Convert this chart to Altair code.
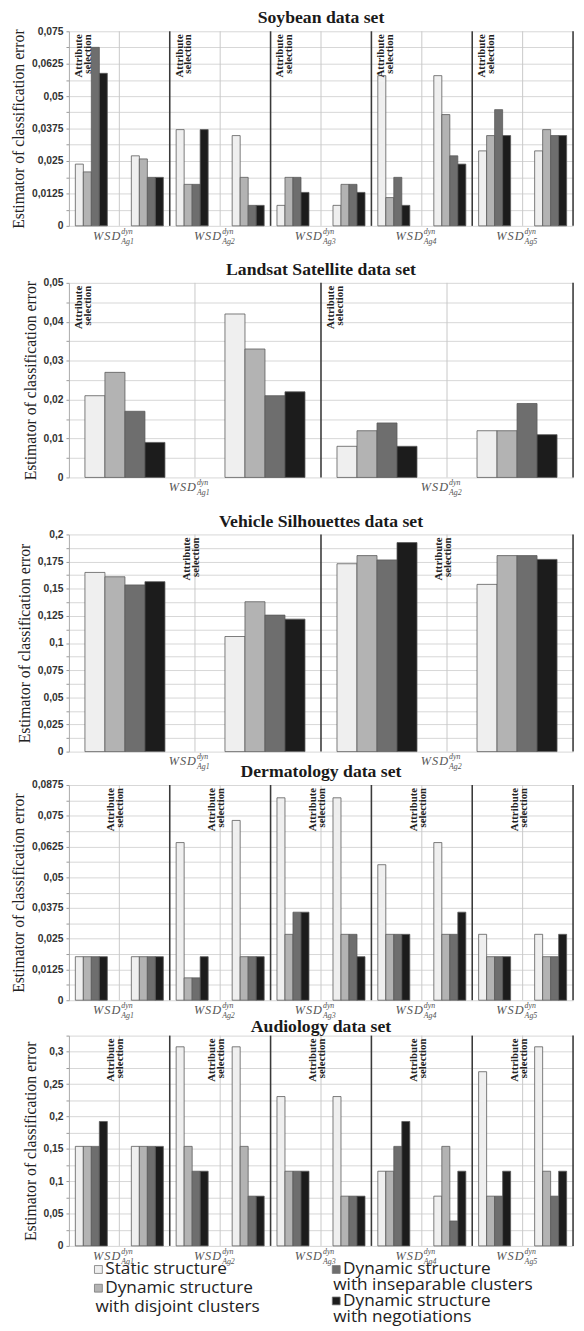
import altair as alt
import pandas as pd

SERIES = ["Static structure",
          "Dynamic structure with disjoint clusters",
          "Dynamic structure with inseparable clusters",
          "Dynamic structure with negotiations"]
COLORS = ["#efefef", "#b3b3b3", "#6e6e6e", "#1c1c1c"]

AG5 = ["Ag1", "Ag2", "Ag3", "Ag4", "Ag5"]
AG2 = ["Ag1", "Ag2"]

# values per agent group: [static, disjoint, inseparable, negotiations]
# left half (with "Attribute selection" label) and right half of each group
soy_left = [[0.0238, 0.0208, 0.0688, 0.0588],
            [0.0371, 0.0160, 0.0160, 0.0371],
            [0.0079, 0.0187, 0.0187, 0.0129],
            [0.0579, 0.0109, 0.0187, 0.0079],
            [0.0289, 0.0348, 0.0448, 0.0348]]
soy_right = [[0.0270, 0.0258, 0.0187, 0.0187],
             [0.0348, 0.0187, 0.0079, 0.0079],
             [0.0079, 0.0160, 0.0160, 0.0129],
             [0.0579, 0.0429, 0.0270, 0.0238],
             [0.0289, 0.0371, 0.0348, 0.0348]]

land_left = [[0.021, 0.027, 0.017, 0.009],
             [0.008, 0.012, 0.014, 0.008]]
land_right = [[0.042, 0.033, 0.021, 0.022],
              [0.012, 0.012, 0.019, 0.011]]

veh_left = [[0.165, 0.161, 0.1535, 0.1565],
            [0.173, 0.1805, 0.1765, 0.1925]]
veh_right = [[0.106, 0.138, 0.1257, 0.122],
             [0.154, 0.1805, 0.1805, 0.177]]

derm_left = [[0.0177, 0.0177, 0.0177, 0.0177],
             [0.0641, 0.0091, 0.0091, 0.0177],
             [0.0823, 0.0268, 0.0358, 0.0358],
             [0.0551, 0.0268, 0.0268, 0.0268],
             [0.0268, 0.0177, 0.0177, 0.0177]]
derm_right = [[0.0177, 0.0177, 0.0177, 0.0177],
              [0.0731, 0.0177, 0.0177, 0.0177],
              [0.0823, 0.0268, 0.0268, 0.0177],
              [0.0641, 0.0268, 0.0268, 0.0358],
              [0.0268, 0.0177, 0.0177, 0.0268]]

aud_left = [[0.1538, 0.1538, 0.1538, 0.1923],
            [0.3077, 0.1538, 0.1154, 0.1154],
            [0.2308, 0.1154, 0.1154, 0.1154],
            [0.1154, 0.1154, 0.1538, 0.1923],
            [0.2692, 0.0769, 0.0769, 0.1154]]
aud_right = [[0.1538, 0.1538, 0.1538, 0.1538],
             [0.3077, 0.1538, 0.0769, 0.0769],
             [0.2308, 0.0769, 0.0769, 0.0769],
             [0.0769, 0.1538, 0.0385, 0.1154],
             [0.3077, 0.1154, 0.0769, 0.1154]]

# legend lines (two columns, wrapped labels)
leg_col = [0, 0, 0, 1, 1, 1, 1]
leg_line = [0, 1.19, 2.38, 0, 1, 2, 3]
leg_text = ["Static structure", "Dynamic structure", "with disjoint clusters",
            "Dynamic structure", "with inseparable clusters", "Dynamic structure", "with negotiations"]
leg_series = [SERIES[0], SERIES[1], None, SERIES[2], None, SERIES[3], None]

SLOTS = ["L0", "L1", "L2", "L3", "g0", "g1", "g2", "R0", "R1", "R2", "R3"]
W = 513
SERIF = "Liberation Serif"
color_enc = alt.Color("series:N", scale=alt.Scale(domain=SERIES, range=COLORS), legend=None)


def legend_layer(height):
    ldf = pd.DataFrame({"col": leg_col, "line": leg_line, "text": leg_text, "series": leg_series})
    ldf["first"] = ldf["series"].notna()
    lx = alt.X("col:Q", scale=alt.Scale(domain=[0, 1], range=[27, 269]), axis=None)
    ly = alt.Y("line:Q", scale=alt.Scale(domain=[0, 3], range=[height + 24, height + 72]), axis=None)
    sym = alt.Chart(ldf[ldf["first"]]).mark_square(size=64, stroke="#777", strokeWidth=0.8, opacity=1,
                                                   xOffset=3).encode(x=lx, y=ly, color=color_enc)
    t1 = alt.Chart(ldf[ldf["first"]]).mark_text(align="left", baseline="middle", font="Open Sans",
                                                fontSize=17.5, color="#222", dx=10).encode(x=lx, y=ly, text="text:N")
    t2 = alt.Chart(ldf[~ldf["first"]]).mark_text(align="left", baseline="middle", font="Open Sans",
                                                 fontSize=17.5, color="#222", dx=0).encode(x=lx, y=ly, text="text:N")
    return alt.layer(sym, t1, t2)


def panel(title, agents, left_vals, right_vals, ymax, step, height, label_at_start,
          title_offset=-1, with_legend=False):
    rows = []
    for a, lv, rv in zip(agents, left_vals, right_vals):
        for i in range(4):
            rows.append({"agent": a, "slot": f"L{i}", "series": SERIES[i], "value": lv[i]})
            rows.append({"agent": a, "slot": f"R{i}", "series": SERIES[i], "value": rv[i]})
    df = pd.DataFrame(rows)
    xscale = alt.Scale(domain=agents, paddingInner=0, paddingOuter=0)
    half = step / 2
    grid_vals = [round(k * half, 6) for k in range(int(round(ymax / half)) + 1)]
    label_expr = (f"abs(datum.value/{step} - round(datum.value/{step})) < 0.001 ? "
                  f"replace(format(datum.value, '.6~g'), '.', ',') : ''")
    yenc = alt.Y("value:Q",
                 scale=alt.Scale(domain=[0, ymax], nice=False, zero=True),
                 axis=alt.Axis(values=grid_vals, labelExpr=label_expr,
                               title="Estimator of classification error",
                               titleFont=SERIF, titleFontSize=16, titleFontWeight="normal",
                               titleColor="#222", titlePadding=5,
                               labelFont="Liberation Sans", labelFontWeight="bold",
                               labelFontSize=10.5, labelColor="#333", labelPadding=3,
                               tickSize=3, tickColor="#999", domainColor="#aaa",
                               gridColor="#d6d6d6"))
    bars = alt.Chart(df).mark_bar(stroke="#5a5a5a", strokeWidth=0.8).encode(
        x=alt.X("agent:N", scale=xscale, axis=None),
        xOffset=alt.XOffset("slot:N", scale=alt.Scale(domain=SLOTS, paddingInner=0, paddingOuter=0.8)),
        y=yenc,
        color=color_enc,
    )
    adf = pd.DataFrame({"agent": agents})
    half_rule = alt.Chart(adf).mark_rule(color="#c8c8c8", strokeWidth=1).encode(
        x=alt.X("agent:N", scale=xscale, axis=None, bandPosition=0.5))
    grp_rule = alt.Chart(pd.DataFrame({"agent": agents[1:]})).mark_rule(color="#3a3a3a", strokeWidth=1.6).encode(
        x=alt.X("agent:N", scale=xscale, axis=None, bandPosition=0))
    end_rule = alt.Chart(pd.DataFrame({"agent": agents[-1:]})).mark_rule(color="#3a3a3a", strokeWidth=1.6).encode(
        x=alt.X("agent:N", scale=xscale, axis=None, bandPosition=1))
    if label_at_start:
        attr = alt.Chart(adf).mark_text(text=["Attribute", "selection"], angle=270, align="right",
                                        baseline="top", font=SERIF, fontWeight="bold", fontSize=11,
                                        lineHeight=9, color="#222", dy=4).encode(
            x=alt.X("agent:N", scale=xscale, axis=None, bandPosition=0), y=alt.value(3))
    else:
        attr = alt.Chart(adf).mark_text(text=["Attribute", "selection"], angle=270, align="right",
                                        baseline="bottom", font=SERIF, fontWeight="bold", fontSize=11,
                                        lineHeight=9, color="#222", dy=-3).encode(
            x=alt.X("agent:N", scale=xscale, axis=None, bandPosition=0.5), y=alt.value(3))
    xpos = alt.X("agent:N", scale=xscale, axis=None, bandPosition=0.5)
    lab_main = alt.Chart(adf).mark_text(text="W\u200aS\u200aD", font=SERIF, fontStyle="italic", fontSize=12.5,
                                        align="right", baseline="alphabetic", dx=1, color="#555").encode(
        x=xpos, y=alt.value(height + 14))
    lab_sup = alt.Chart(adf).mark_text(text="dyn", font=SERIF, fontStyle="italic", fontSize=8,
                                       align="left", baseline="alphabetic", dx=2, color="#555").encode(
        x=xpos, y=alt.value(height + 8))
    lab_sub = alt.Chart(adf).mark_text(font=SERIF, fontStyle="italic", fontSize=8,
                                       align="left", baseline="alphabetic", dx=2, color="#555").encode(
        x=xpos, y=alt.value(height + 18), text=alt.Text("agent:N"))
    core = alt.layer(bars, half_rule, grp_rule, end_rule, attr, lab_main, lab_sup, lab_sub)
    if with_legend:
        core = alt.layer(core, legend_layer(height)).resolve_scale(x="independent", y="independent")
    return core.properties(
        width=W, height=height,
        title=alt.TitleParams(title, font=SERIF, fontSize=18, fontWeight="bold", color="#1a1a1a",
                              anchor="middle", offset=title_offset))


soy = panel("Soybean data set", AG5, soy_left, soy_right, 0.075, 0.0125, 198, True)
land = panel("Landsat Satellite data set", AG2, land_left, land_right, 0.05, 0.01, 198, True)
veh = panel("Vehicle Silhouettes data set", AG2, veh_left, veh_right, 0.2, 0.025, 221, False)
derm = panel("Dermatology data set", AG5, derm_left, derm_right, 0.0875, 0.0125, 219, False)
aud = panel("Audiology data set", AG5, aud_left, aud_right, 0.325, 0.05, 214, False, with_legend=True)

top = alt.vconcat(soy, land, veh, spacing=16).resolve_scale(xOffset="independent", color="independent")
bottom = alt.vconcat(derm, aud, spacing=-2).resolve_scale(xOffset="independent", color="independent")
chart = alt.vconcat(top, bottom, spacing=-8).properties(
    padding={"left": 2, "right": 2, "top": -10, "bottom": 0}
).configure_view(stroke=None).resolve_scale(color="independent", xOffset="independent")

chart.save("out.html", embed_options={"renderer": "svg", "actions": False})
